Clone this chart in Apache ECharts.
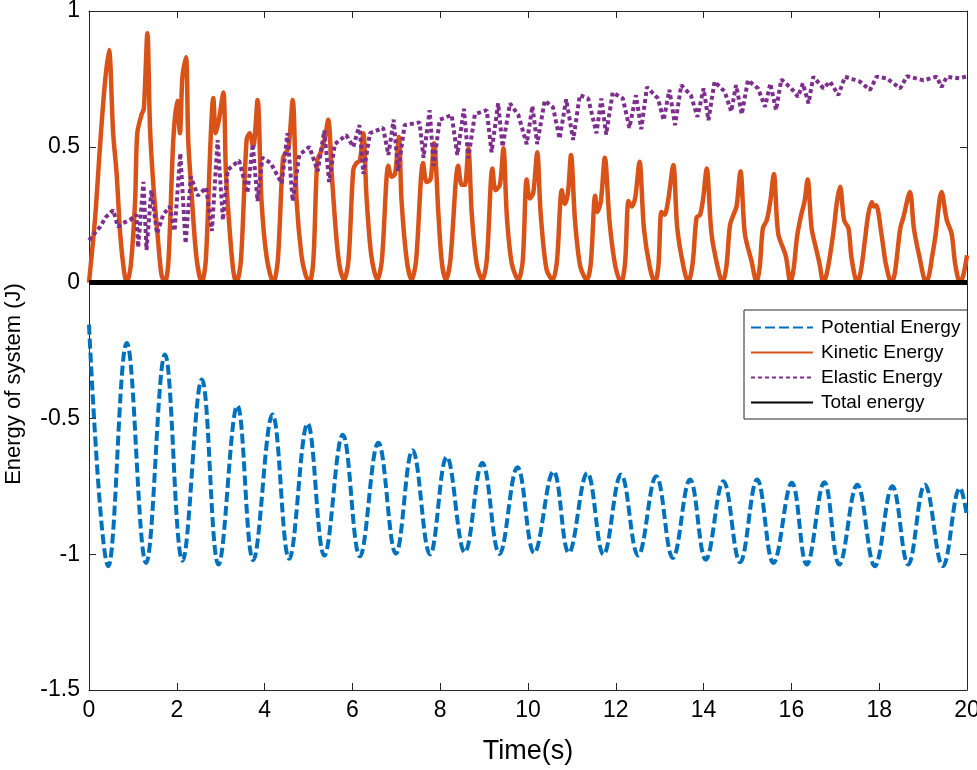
<!DOCTYPE html>
<html>
<head>
<meta charset="utf-8">
<script src="https://cdn.jsdelivr.net/npm/echarts/dist/echarts.min.js"></script>
<style>
html,body{margin:0;padding:0;background:#fff;overflow:hidden;}
#chart{width:977px;height:770px;}
</style>
</head>
<body>
<div id="chart"></div>
<script>
// ---- data: [time (s), energy (J)] ----
const xTicks = [0, 2, 4, 6, 8, 10, 12, 14, 16, 18, 20];
const yTicks = [-1.5, -1, -0.5, 0, 0.5, 1];
const seriesNames = ['Potential Energy', 'Kinetic Energy', 'Elastic Energy', 'Total energy'];

const potential = [
  [0,-0.155],[0.44,-1.044],[0.86,-0.222],[1.30,-1.032],[1.73,-0.265],[2.13,-1.024],
  [2.57,-0.357],[2.95,-1.038],[3.38,-0.453],[3.74,-1.022],[4.18,-0.486],[4.56,-1.017],
  [4.98,-0.519],[5.36,-1.005],[5.78,-0.560],[6.17,-1.008],[6.59,-0.590],[6.99,-0.998],
  [7.37,-0.617],[7.77,-1.001],[8.15,-0.642],[8.56,-0.993],[8.96,-0.664],[9.35,-0.999],
  [9.76,-0.680],[10.14,-0.995],[10.58,-0.695],[10.93,-0.995],[11.35,-0.701],[11.72,-1.001],
  [12.12,-0.707],[12.51,-1.005],[12.92,-0.713],[13.30,-1.014],[13.69,-0.725],[14.05,-1.020],
  [14.45,-0.731],[14.83,-1.030],[15.22,-0.725],[15.59,-1.032],[16.01,-0.737],[16.35,-1.038],
  [16.75,-0.735],[17.09,-1.038],[17.50,-0.744],[17.90,-1.044],[18.30,-0.750],[18.66,-1.038],
  [19.04,-0.744],[19.45,-1.044],[19.84,-0.756],[20,-0.860]
];

const kinetic = [
  [0,0],[0.14,0.24],[0.25,0.50],[0.36,0.73],[0.455,0.856],[0.55,0.55],[0.63,0.40],[0.71,0.18],[0.80,0.04],[0.86,0],
  [0.95,0.06],[1.05,0.30],[1.10,0.55],[1.20,0.62],[1.25,0.64],[1.33,0.918],[1.39,0.57],[1.47,0.35],[1.56,0.18],[1.65,0.03],[1.73,0],
  [1.81,0.08],[1.92,0.525],[2.01,0.67],[2.07,0.55],[2.13,0.76],[2.21,0.83],[2.26,0.525],[2.34,0.32],[2.45,0.09],[2.57,0],
  [2.66,0.08],[2.77,0.525],[2.83,0.68],[2.89,0.55],[2.96,0.60],[3.06,0.70],[3.12,0.40],[3.21,0.18],[3.29,0.04],[3.36,0],
  [3.46,0.08],[3.59,0.525],[3.66,0.55],[3.74,0.50],[3.84,0.672],[3.93,0.30],[4.05,0.09],[4.20,0],
  [4.30,0.08],[4.42,0.46],[4.49,0.48],[4.55,0.50],[4.64,0.672],[4.73,0.30],[4.84,0.10],[4.93,0.03],[5.02,0],
  [5.11,0.08],[5.20,0.45],[5.28,0.48],[5.37,0.53],[5.45,0.60],[5.53,0.40],[5.64,0.155],[5.72,0.05],[5.81,0.01],
  [5.91,0.08],[6.02,0.415],[6.09,0.44],[6.17,0.45],[6.25,0.55],[6.32,0.32],[6.43,0.10],[6.57,0.01],
  [6.67,0.08],[6.82,0.43],[6.89,0.39],[6.97,0.40],[7.06,0.536],[7.12,0.30],[7.24,0.08],[7.35,0.01],
  [7.45,0.08],[7.61,0.44],[7.69,0.37],[7.78,0.38],[7.86,0.513],[7.96,0.25],[8.04,0.07],[8.13,0.01],
  [8.23,0.08],[8.41,0.43],[8.49,0.36],[8.56,0.36],[8.64,0.495],[8.72,0.25],[8.83,0.07],[8.96,0.01],
  [9.06,0.08],[9.19,0.42],[9.26,0.34],[9.36,0.36],[9.44,0.495],[9.52,0.24],[9.63,0.07],[9.78,0.01],
  [9.88,0.08],[9.97,0.38],[10.04,0.31],[10.12,0.33],[10.21,0.48],[10.29,0.25],[10.42,0.05],[10.56,0.01],
  [10.66,0.08],[10.77,0.34],[10.84,0.29],[10.91,0.33],[10.98,0.47],[11.07,0.23],[11.19,0.06],[11.34,0.01],
  [11.43,0.07],[11.53,0.32],[11.58,0.26],[11.66,0.30],[11.75,0.46],[11.86,0.22],[11.99,0.06],[12.12,0],
  [12.21,0.07],[12.29,0.30],[12.36,0.28],[12.44,0.31],[12.54,0.445],[12.64,0.20],[12.77,0.06],[12.89,0],
  [12.97,0.06],[13.04,0.26],[13.11,0.25],[13.19,0.30],[13.31,0.433],[13.40,0.20],[13.54,0.06],[13.65,0],
  [13.75,0.07],[13.84,0.24],[13.92,0.25],[13.99,0.31],[14.07,0.42],[14.18,0.18],[14.33,0.05],[14.43,0],
  [14.52,0.06],[14.60,0.21],[14.68,0.25],[14.75,0.28],[14.84,0.41],[14.94,0.18],[15.09,0.08],[15.21,0],
  [15.28,0.06],[15.35,0.20],[15.44,0.23],[15.52,0.30],[15.60,0.40],[15.70,0.18],[15.87,0.10],[15.98,0],
  [16.05,0.05],[16.13,0.17],[16.21,0.24],[16.30,0.30],[16.37,0.38],[16.46,0.20],[16.57,0.12],[16.64,0.07],[16.73,0],
  [16.80,0.03],[16.87,0.09],[16.96,0.19],[17.04,0.30],[17.11,0.353],[17.20,0.23],[17.30,0.20],[17.37,0.09],[17.50,0],
  [17.58,0.04],[17.67,0.15],[17.75,0.25],[17.83,0.297],[17.88,0.28],[17.93,0.285],[18.05,0.18],[18.15,0.07],[18.28,0],
  [18.35,0.03],[18.40,0.09],[18.48,0.20],[18.55,0.24],[18.70,0.334],[18.79,0.20],[18.91,0.10],[19.07,0],
  [19.14,0.03],[19.20,0.09],[19.28,0.17],[19.42,0.334],[19.54,0.23],[19.65,0.18],[19.73,0.07],[19.84,0],
  [19.92,0.03],[20,0.10]
];

const elastic = [
  [0,0.156],[0.25,0.205],[0.39,0.242],[0.55,0.267],[0.66,0.205],[0.78,0.22],[0.93,0.23],[1.08,0.25],[1.12,0.13],
  [1.24,0.371],[1.31,0.12],[1.42,0.34],[1.55,0.18],[1.69,0.25],[1.84,0.28],[1.95,0.19],[2.08,0.476],[2.20,0.144],
  [2.32,0.39],[2.48,0.32],[2.67,0.35],[2.80,0.19],[2.93,0.525],[3.05,0.23],[3.16,0.415],[3.42,0.45],[3.61,0.33],
  [3.73,0.51],[3.84,0.30],[3.95,0.46],[4.14,0.44],[4.39,0.365],[4.52,0.55],[4.64,0.30],[4.79,0.47],[5.02,0.50],
  [5.21,0.41],[5.36,0.56],[5.47,0.37],[5.60,0.51],[5.86,0.543],[6.02,0.50],[6.16,0.58],[6.25,0.40],[6.40,0.55],
  [6.70,0.57],[6.82,0.47],[6.94,0.60],[7.04,0.41],[7.19,0.58],[7.53,0.59],[7.62,0.46],[7.76,0.635],[7.85,0.43],
  [7.99,0.60],[8.26,0.617],[8.39,0.47],[8.54,0.64],[8.64,0.458],[8.79,0.62],[9.06,0.635],[9.17,0.48],[9.32,0.66],
  [9.42,0.50],[9.59,0.66],[9.78,0.617],[9.97,0.51],[10.10,0.65],[10.21,0.51],[10.38,0.67],[10.57,0.645],[10.72,0.53],
  [10.87,0.675],[11.03,0.525],[11.18,0.69],[11.37,0.678],[11.56,0.55],[11.67,0.678],[11.78,0.545],[11.93,0.70],
  [12.16,0.678],[12.31,0.57],[12.46,0.69],[12.58,0.565],[12.71,0.72],[12.96,0.678],[13.09,0.598],[13.22,0.71],
  [13.35,0.58],[13.49,0.727],[13.71,0.69],[13.86,0.61],[14.00,0.715],[14.11,0.598],[14.25,0.74],[14.48,0.703],
  [14.63,0.63],[14.74,0.727],[14.87,0.62],[15.01,0.745],[15.24,0.715],[15.40,0.647],[15.52,0.733],[15.65,0.635],
  [15.77,0.748],[16.00,0.715],[16.15,0.684],[16.26,0.733],[16.39,0.66],[16.50,0.758],[16.73,0.715],[16.88,0.74],
  [17.07,0.69],[17.22,0.758],[17.56,0.74],[17.79,0.709],[17.94,0.758],[18.17,0.752],[18.48,0.715],[18.63,0.76],
  [19.01,0.745],[19.31,0.758],[19.42,0.72],[19.54,0.758],[19.84,0.752],[20,0.76]
];

const total = [[0,0],[20,0]];

// ---- chart ----
const FONT = "'Liberation Sans', Arial, Helvetica, sans-serif";
const AXIS_COLOR = '#262626';
const chart = echarts.init(document.getElementById('chart'), null, {renderer: 'canvas', width: 977, height: 770});

const baseAxis = {
  type: 'value',
  axisLine: {show: true, onZero: false, lineStyle: {color: AXIS_COLOR, width: 1}},
  axisTick: {show: true, inside: true, length: 7, lineStyle: {color: AXIS_COLOR, width: 1}},
  splitLine: {show: false}
};

chart.setOption({
  animation: false,
  backgroundColor: '#fff',
  grid: {left: 89, right: 10, top: 11, bottom: 80, containLabel: false, outerBoundsMode: 'none'},
  xAxis: [
    Object.assign({}, baseAxis, {
      position: 'bottom', min: xTicks[0], max: xTicks[xTicks.length - 1], interval: 2,
      axisLabel: {color: '#000', fontSize: 23, fontFamily: FONT, margin: 9}
    }),
    Object.assign({}, baseAxis, {
      position: 'top', min: xTicks[0], max: xTicks[xTicks.length - 1], interval: 2,
      axisLabel: {show: false}
    })
  ],
  yAxis: [
    Object.assign({}, baseAxis, {
      position: 'left', min: yTicks[0], max: yTicks[yTicks.length - 1], interval: 0.5,
      axisLabel: {color: '#000', fontSize: 23, fontFamily: FONT, margin: 9}
    }),
    Object.assign({}, baseAxis, {
      position: 'right', min: yTicks[0], max: yTicks[yTicks.length - 1], interval: 0.5,
      axisLabel: {show: false}
    })
  ],
  legend: {
    orient: 'vertical',
    left: 744, top: 310,
    data: seriesNames,
    itemWidth: 62, itemHeight: 14, itemGap: 6,
    padding: [8, 7, 7, 6],
    borderColor: AXIS_COLOR, borderWidth: 1, backgroundColor: '#fff',
    itemStyle: {opacity: 0},
    textStyle: {fontSize: 19, fontFamily: FONT, color: '#000', padding: [0, 0, 0, 3]}
  },
  graphic: [
    {type: 'text', x: 528, y: 752, style: {text: 'Time(s)', font: '27px ' + FONT, fill: '#000', align: 'center', verticalAlign: 'middle', textAlign: 'center', textVerticalAlign: 'middle'}},
    {type: 'text', x: 14, y: 384, rotation: Math.PI / 2, style: {text: 'Energy of system (J)', font: '22px ' + FONT, fill: '#000', align: 'center', verticalAlign: 'middle', textAlign: 'center', textVerticalAlign: 'middle'}}
  ],
  series: [
    {name: seriesNames[0], type: 'line', data: potential, symbol: 'none', smooth: 0.4,
      lineStyle: {color: '#0072BD', width: 4, type: [10, 4]}, itemStyle: {color: '#0072BD'}, z: 2},
    {name: seriesNames[1], type: 'line', data: kinetic, symbol: 'none', smooth: 0.3,
      lineStyle: {color: '#D95319', width: 4.5, type: 'solid'}, itemStyle: {color: '#D95319'}, z: 3},
    {name: seriesNames[2], type: 'line', data: elastic, symbol: 'none', smooth: false,
      lineStyle: {color: '#7E2F8E', width: 4, type: [4, 3], cap: 'butt'}, itemStyle: {color: '#7E2F8E'}, z: 4},
    {name: seriesNames[3], type: 'line', data: total, symbol: 'none',
      lineStyle: {color: '#000', width: 5}, itemStyle: {color: '#000'}, z: 5}
  ]
});
</script>
</body>
</html>
